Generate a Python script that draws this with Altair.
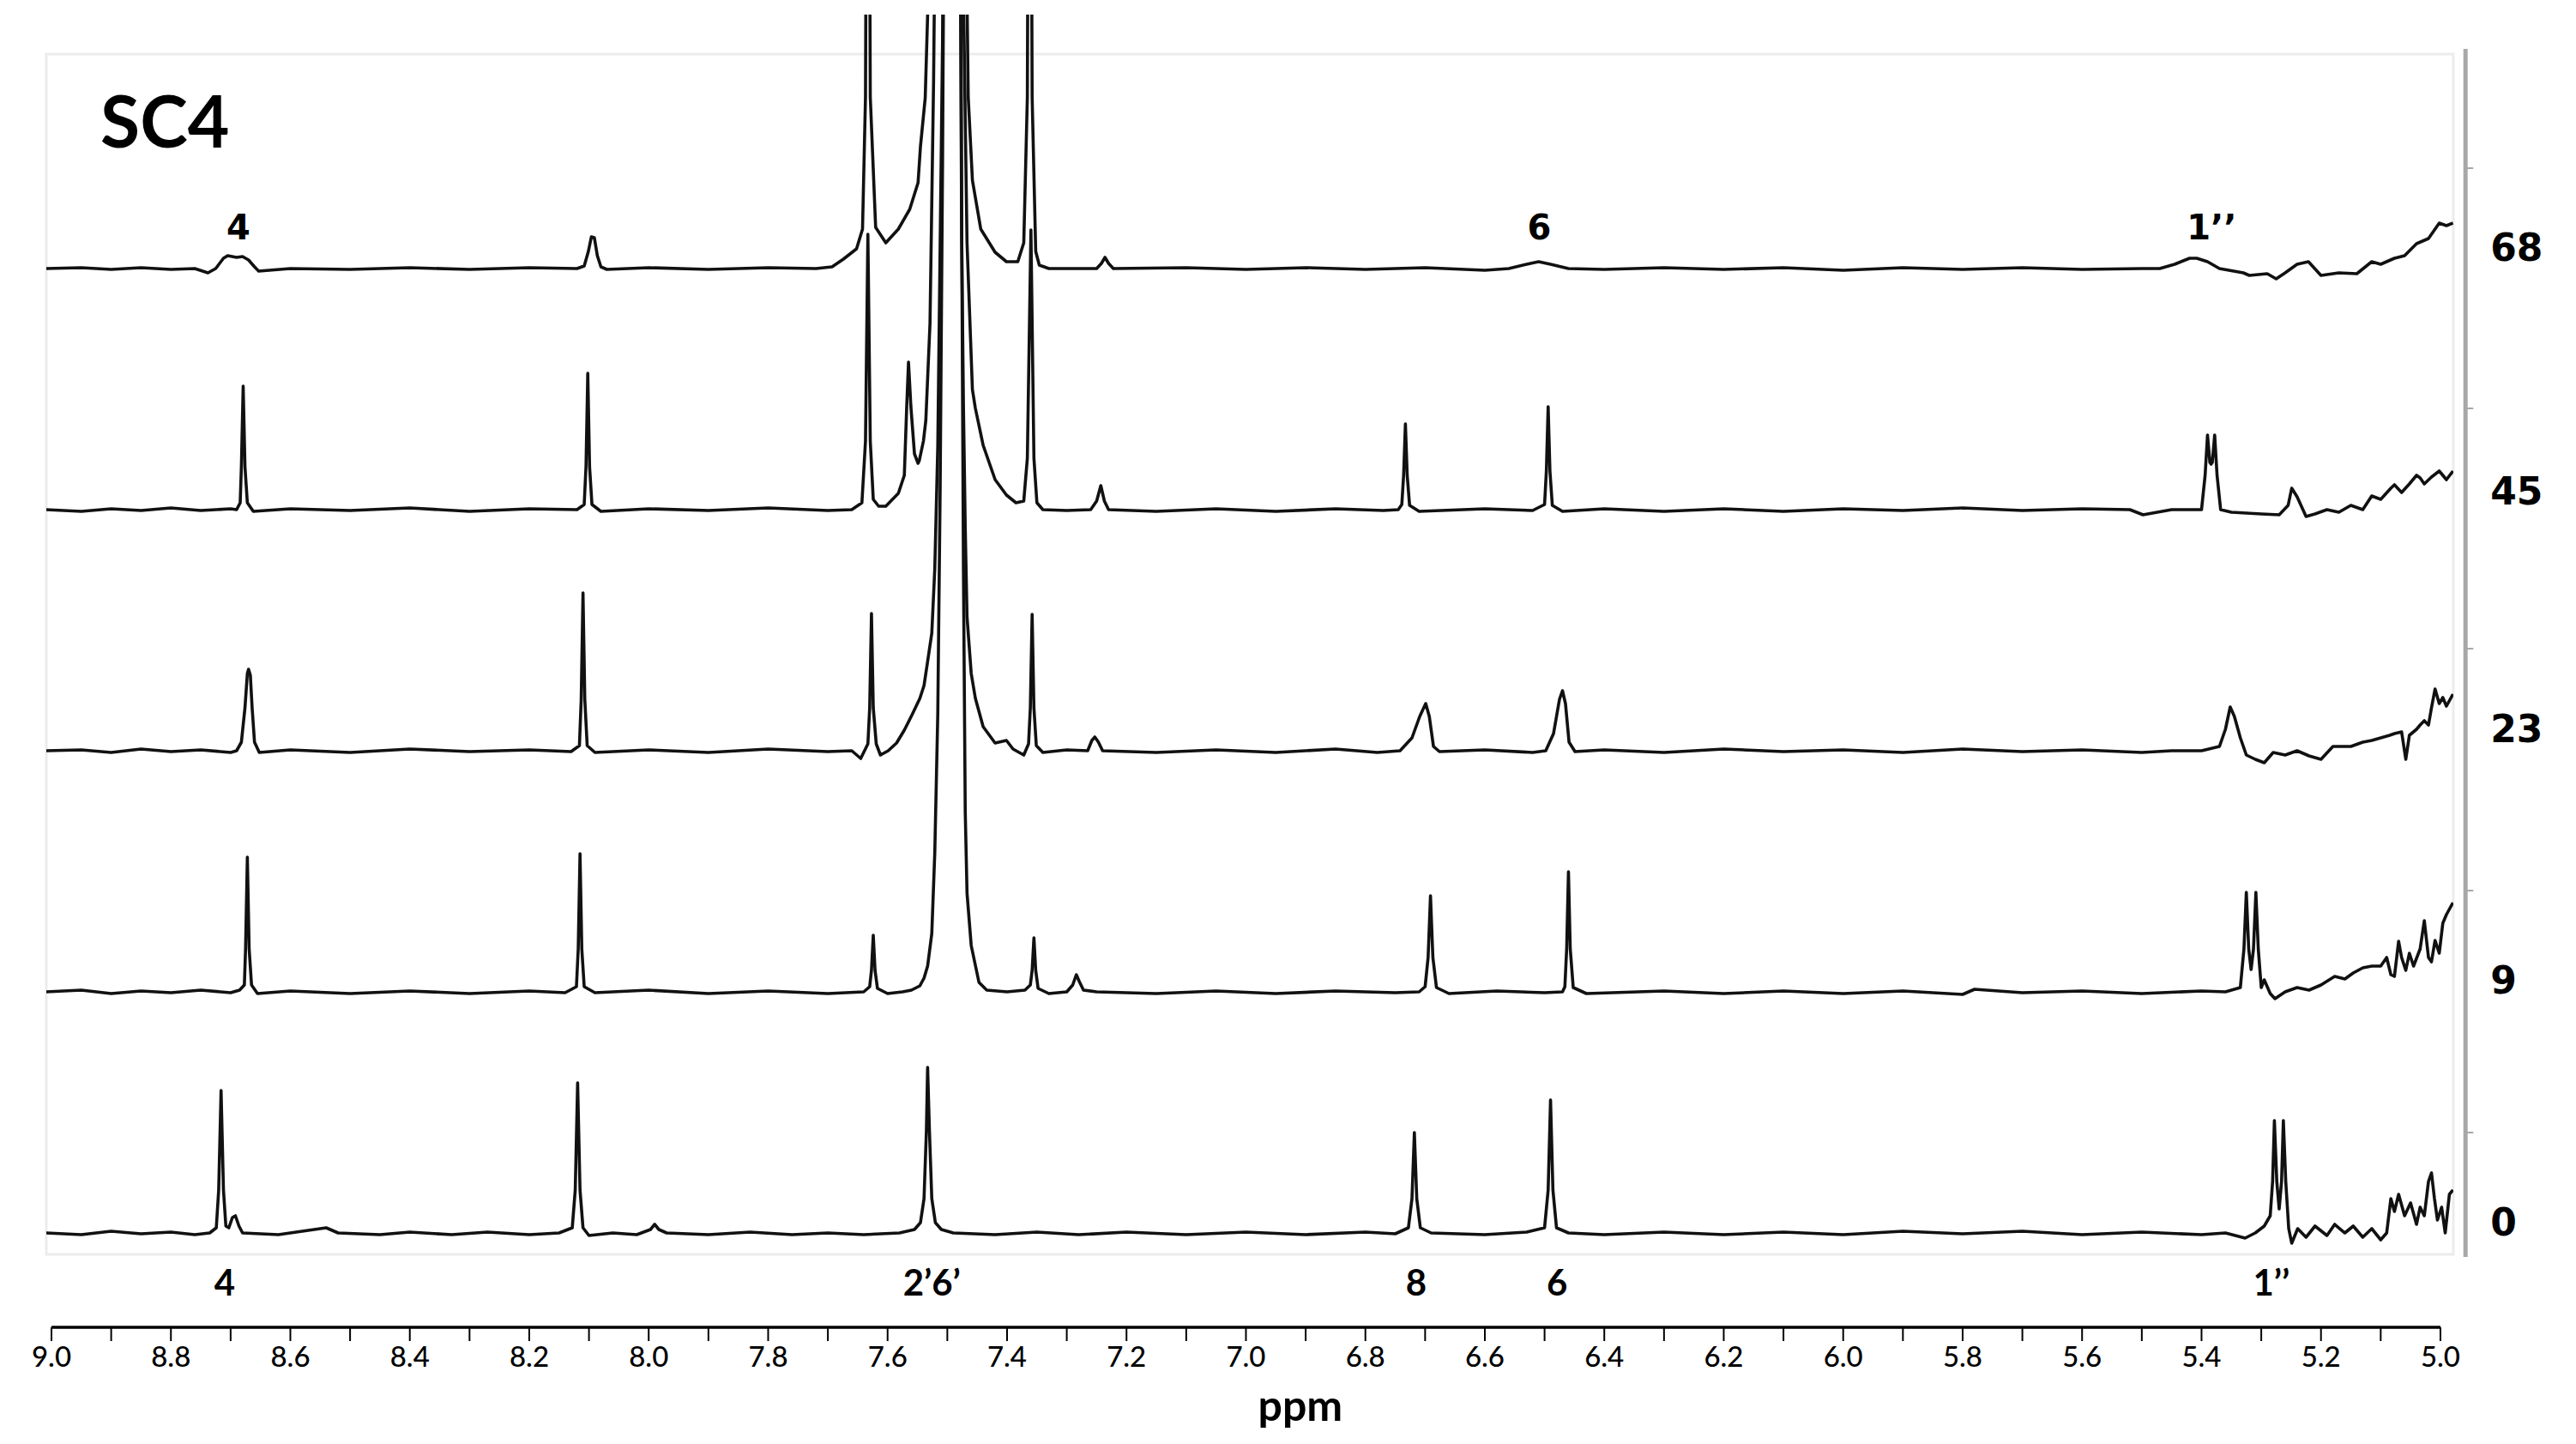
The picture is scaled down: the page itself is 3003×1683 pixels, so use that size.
import altair as alt
import pandas as pd

# ---- stacked 1H NMR traces (ppm, intensity above own baseline) ----
SAMPLES = ["0", "9", "23", "45", "68"]
OFFSETS = [28, 309, 590, 871, 1152]          # stacking offset of each trace
LABEL_Y = [38, 320, 613, 890, 1174]          # right-hand sample labels

trace_0 = [
    (9.010, 0), (8.95, -2), (8.90, 2), (8.85, -1), (8.80, 1), (8.76, -2), (8.735, 0),
    (8.724, 6), (8.720, 50), (8.716, 166), (8.712, 50), (8.708, 8), (8.703, 6), (8.697, 18), (8.692, 20), (8.686, 8), (8.680, 0),
    (8.62, -2), (8.58, 2), (8.54, 6), (8.52, 0), (8.45, -2), (8.40, 1), (8.33, -2), (8.27, 1), (8.20, -2), (8.15, 0),
    (8.128, 6), (8.123, 50), (8.119, 175), (8.115, 50), (8.110, 6), (8.10, -3), (8.06, 0), (8.02, -2), (7.997, 4), (7.99, 10), (7.983, 4), (7.97, 0),
    (7.90, -2), (7.83, 1), (7.76, -2), (7.70, 0), (7.64, -2), (7.58, 0), (7.555, 4),
    (7.545, 12), (7.539, 40), (7.535, 120), (7.533, 193), (7.530, 120), (7.526, 40), (7.520, 12), (7.510, 4), (7.49, 0),
    (7.42, -2), (7.35, 1), (7.28, -2), (7.20, 1), (7.10, -2), (7.00, 1), (6.90, -2), (6.80, 1), (6.75, -1),
    (6.728, 6), (6.722, 40), (6.718, 117), (6.714, 40), (6.708, 6), (6.69, 0), (6.60, -2), (6.53, 1),
    (6.500, 6), (6.494, 50), (6.490, 155), (6.486, 50), (6.480, 6), (6.46, 0),
    (6.40, -2), (6.30, 1), (6.20, -2), (6.10, 1), (6.00, -2), (5.90, 2), (5.80, -1), (5.70, 2), (5.60, -2), (5.50, 1),
    (5.40, -2), (5.36, 0), (5.327, -6), (5.31, 0), (5.295, 8),
    (5.285, 20), (5.281, 60), (5.278, 131), (5.274, 60), (5.270, 28), (5.266, 60), (5.263, 131), (5.259, 60), (5.254, 5),
    (5.249, -12), (5.239, 5), (5.225, -5), (5.21, 8), (5.19, -3), (5.177, 10), (5.16, 0), (5.146, 8), (5.13, -5), (5.115, 5),
    (5.10, -8), (5.09, 0), (5.083, 40), (5.077, 25), (5.070, 45), (5.060, 20), (5.050, 35), (5.040, 10), (5.034, 30),
    (5.027, 20), (5.020, 60), (5.015, 70), (5.010, 40), (5.005, 15), (4.998, 30), (4.992, 0), (4.985, 45), (4.979, 50),
]

trace_9 = [
    (9.010, 0), (8.95, 2), (8.90, -2), (8.85, 1), (8.80, -1), (8.75, 2), (8.70, -1), (8.685, 2),
    (8.677, 8), (8.675, 50), (8.672, 157), (8.669, 50), (8.665, 8), (8.655, -2), (8.60, 1), (8.50, -2), (8.40, 1), (8.30, -2), (8.20, 1), (8.14, -1),
    (8.121, 6), (8.118, 50), (8.115, 161), (8.112, 50), (8.108, 6), (8.09, -1), (8.00, 2), (7.90, -2), (7.80, 1), (7.70, -2), (7.64, 0),
    (7.630, 6), (7.627, 25), (7.624, 66), (7.621, 25), (7.617, 4), (7.60, -2), (7.575, 0), (7.56, 2),
    (7.546, 7), (7.539, 16), (7.533, 30), (7.526, 68), (7.521, 162), (7.516, 323), (7.512, 587), (7.508, 965), (7.503, 1600),
    (7.495, 2600), (7.488, 2800), (7.481, 2000), (7.476, 900), (7.473, 493), (7.470, 210), (7.467, 115), (7.460, 54), (7.447, 11),
    (7.434, 2), (7.40, 0), (7.37, 2),
    (7.361, 8), (7.358, 25), (7.355, 63), (7.352, 25), (7.348, 4), (7.33, -2), (7.30, 0), (7.290, 8), (7.284, 20), (7.279, 12), (7.272, 2), (7.25, 0),
    (7.15, -2), (7.05, 1), (6.95, -2), (6.85, 1), (6.75, -1), (6.71, 0),
    (6.700, 6), (6.695, 40), (6.691, 112), (6.687, 40), (6.681, 5), (6.66, -2), (6.58, 1), (6.50, -1), (6.47, 0),
    (6.466, 6), (6.463, 50), (6.460, 140), (6.457, 50), (6.452, 5), (6.43, -2), (6.30, 1), (6.20, -2), (6.10, 1), (6.00, -2),
    (5.90, 1), (5.80, -3), (5.78, 3), (5.70, -1), (5.60, 1), (5.50, -2), (5.40, 1), (5.36, 0), (5.335, 5),
    (5.329, 50), (5.325, 116), (5.321, 50), (5.317, 26), (5.313, 50), (5.309, 116), (5.305, 50), (5.300, 5), (5.295, 14),
    (5.285, -2), (5.277, -8), (5.26, 0), (5.24, 5), (5.22, 2), (5.20, 8), (5.177, 18), (5.16, 15), (5.146, 22), (5.13, 28),
    (5.115, 30), (5.10, 30), (5.09, 40), (5.083, 20), (5.077, 18), (5.070, 59), (5.065, 40), (5.058, 25), (5.052, 45),
    (5.045, 30), (5.034, 50), (5.027, 83), (5.020, 40), (5.015, 35), (5.009, 60), (5.002, 45), (4.996, 80), (4.990, 90), (4.979, 104),
]

trace_23 = [
    (9.010, 0), (8.95, 1), (8.90, -2), (8.85, 2), (8.80, -1), (8.75, 1), (8.70, -2),
    (8.690, 0), (8.682, 10), (8.676, 50), (8.672, 90), (8.670, 95), (8.667, 88), (8.664, 50), (8.660, 10), (8.652, -2),
    (8.60, 1), (8.50, -2), (8.40, 2), (8.30, -1), (8.20, 1), (8.13, -1),
    (8.116, 6), (8.113, 60), (8.110, 184), (8.107, 60), (8.103, 6), (8.09, -2), (8.00, 1), (7.90, -2), (7.80, 2), (7.70, -1), (7.66, 0), (7.645, -9),
    (7.633, 8), (7.630, 50), (7.627, 160), (7.624, 50), (7.619, 8), (7.612, -5), (7.599, 0), (7.585, 9), (7.572, 24), (7.559, 42),
    (7.546, 61), (7.539, 76), (7.533, 104), (7.526, 137), (7.521, 212), (7.516, 354), (7.512, 590), (7.508, 826), (7.503, 1400),
    (7.496, 2200), (7.487, 2000), (7.480, 1200), (7.476, 600), (7.473, 401), (7.470, 260), (7.467, 156), (7.460, 90), (7.453, 61),
    (7.440, 28), (7.420, 9), (7.401, 12), (7.39, 2), (7.372, -5),
    (7.364, 8), (7.361, 50), (7.358, 159), (7.355, 50), (7.351, 6), (7.34, -2), (7.30, 1), (7.265, 0), (7.258, 12), (7.253, 16), (7.247, 10), (7.24, 0),
    (7.15, -2), (7.05, 1), (6.95, -2), (6.85, 2), (6.78, -2), (6.742, 0), (6.722, 15), (6.709, 40), (6.699, 55), (6.693, 40), (6.686, 5),
    (6.676, -1), (6.60, 1), (6.52, -2), (6.498, 0), (6.485, 20), (6.475, 60), (6.470, 70), (6.465, 55), (6.459, 10), (6.449, -1),
    (6.40, 1), (6.30, -2), (6.20, 2), (6.10, -1), (6.00, 1), (5.90, -2), (5.80, 2), (5.70, -1), (5.60, 1), (5.50, -2), (5.45, 0), (5.40, 0),
    (5.37, 5), (5.360, 25), (5.352, 51), (5.345, 40), (5.335, 15), (5.325, -5), (5.31, -10), (5.295, -14), (5.28, -2), (5.26, -5),
    (5.24, 0), (5.22, -6), (5.20, -10), (5.18, 5), (5.15, 5), (5.13, 10), (5.115, 12), (5.10, 15), (5.085, 18), (5.077, 20),
    (5.065, 22), (5.058, -10), (5.052, 18), (5.040, 25), (5.034, 30), (5.027, 35), (5.020, 30), (5.015, 50), (5.009, 72),
    (5.002, 55), (4.996, 62), (4.990, 52), (4.979, 66),
]

trace_45 = [
    (9.010, 0), (8.95, -2), (8.90, 1), (8.85, -1), (8.80, 2), (8.75, -1), (8.70, 1), (8.69, 0),
    (8.684, 8), (8.682, 50), (8.679, 144), (8.676, 50), (8.672, 8), (8.662, -2), (8.60, 1), (8.50, -1), (8.40, 2), (8.30, -2), (8.20, 1), (8.12, 0),
    (8.108, 6), (8.105, 50), (8.102, 159), (8.099, 50), (8.095, 6), (8.08, -2), (8.00, 1), (7.90, -1), (7.80, 2), (7.70, -1), (7.66, 0),
    (7.643, 8), (7.637, 80), (7.633, 321), (7.629, 80), (7.624, 12), (7.615, 4), (7.603, 4), (7.582, 19), (7.572, 40),
    (7.568, 120), (7.565, 172), (7.561, 120), (7.555, 65), (7.549, 54), (7.547, 57), (7.540, 80), (7.536, 104), (7.529, 217),
    (7.523, 500), (7.516, 1000), (7.505, 2000), (7.490, 2600), (7.478, 1500), (7.473, 600), (7.467, 311), (7.458, 140),
    (7.453, 118), (7.440, 75), (7.420, 35), (7.401, 17), (7.385, 8), (7.372, 10),
    (7.366, 60), (7.360, 326), (7.355, 60), (7.350, 8), (7.34, 0), (7.30, -1), (7.26, 0), (7.250, 10), (7.243, 28), (7.237, 10), (7.23, 0),
    (7.15, -2), (7.05, 1), (6.95, -2), (6.85, 1), (6.77, -1), (6.745, 0),
    (6.739, 6), (6.736, 40), (6.733, 100), (6.730, 40), (6.726, 5), (6.71, -2), (6.60, 1), (6.52, -1),
    (6.500, 6), (6.497, 45), (6.494, 120), (6.491, 45), (6.487, 5), (6.47, -2), (6.40, 1), (6.30, -2), (6.20, 1), (6.10, -2),
    (6.00, 1), (5.90, -1), (5.80, 2), (5.70, -1), (5.60, 1), (5.52, 0), (5.498, -6), (5.45, 0), (5.40, 0),
    (5.394, 40), (5.390, 87), (5.386, 55), (5.384, 53), (5.382, 55), (5.378, 87), (5.374, 40), (5.368, 0), (5.35, -3),
    (5.30, -5), (5.27, -6), (5.255, 5), (5.249, 25), (5.24, 15), (5.225, -8), (5.21, -5), (5.19, 0), (5.17, -3), (5.15, 5),
    (5.13, 0), (5.115, 16), (5.10, 12), (5.083, 25), (5.077, 29), (5.065, 20), (5.052, 30), (5.040, 40), (5.034, 37),
    (5.027, 30), (5.015, 38), (5.002, 45), (4.990, 35), (4.979, 45),
]

trace_68 = [
    (9.010, 0), (8.95, 1), (8.90, -1), (8.85, 1), (8.80, -1), (8.76, 0), (8.738, -5), (8.725, 0), (8.712, 12), (8.705, 15),
    (8.690, 13), (8.680, 14), (8.670, 10), (8.660, 2), (8.653, -3), (8.60, 0), (8.50, -1), (8.40, 1), (8.30, -1), (8.20, 1), (8.12, 0),
    (8.108, 3), (8.101, 20), (8.096, 37), (8.091, 36), (8.086, 15), (8.080, 2), (8.07, -1), (8.00, 1), (7.90, -1), (7.80, 1),
    (7.72, 0), (7.693, 2), (7.674, 11), (7.652, 23), (7.642, 46),
    (7.637, 200), (7.633, 1000), (7.629, 200), (7.620, 48), (7.603, 30), (7.582, 46), (7.563, 69), (7.549, 100), (7.545, 142),
    (7.537, 199), (7.533, 295), (7.526, 700), (7.515, 1800), (7.495, 2600), (7.480, 2000), (7.472, 600), (7.465, 200),
    (7.458, 103), (7.444, 46), (7.420, 19), (7.401, 8), (7.382, 8), (7.372, 30),
    (7.366, 200), (7.362, 1000), (7.358, 200), (7.352, 20), (7.346, 4), (7.33, 0), (7.25, 0), (7.242, 6), (7.236, 13), (7.230, 6), (7.222, 0),
    (7.10, 1), (7.00, -1), (6.90, 1), (6.80, -1), (6.70, 1), (6.60, -2), (6.56, 0), (6.53, 5), (6.510, 8), (6.49, 5), (6.46, 0),
    (6.40, -1), (6.30, 1), (6.20, -1), (6.10, 1), (6.00, -2), (5.90, 1), (5.80, -1), (5.70, 1), (5.60, -1), (5.50, 0),
    (5.47, 0), (5.445, 5), (5.420, 12), (5.408, 12), (5.390, 8), (5.370, 0), (5.33, -5), (5.32, -8), (5.29, -6), (5.275, -12),
    (5.26, -5), (5.24, 5), (5.221, 8), (5.20, -8), (5.17, -5), (5.14, -6), (5.115, 8), (5.10, 5), (5.077, 12), (5.060, 15),
    (5.040, 29), (5.020, 35), (5.002, 53), (4.990, 50), (4.979, 53),
]

TRACES = [trace_0, trace_9, trace_23, trace_45, trace_68]

# x-axis: ticks every 0.1 ppm, labels every 0.2 ppm
TICKS = [9.0, 8.9, 8.8, 8.7, 8.6, 8.5, 8.4, 8.3, 8.2, 8.1, 8.0, 7.9, 7.8, 7.7, 7.6, 7.5, 7.4, 7.3, 7.2, 7.1,
         7.0, 6.9, 6.8, 6.7, 6.6, 6.5, 6.4, 6.3, 6.2, 6.1, 6.0, 5.9, 5.8, 5.7, 5.6, 5.5, 5.4, 5.3, 5.2, 5.1, 5.0]
TICK_LABELS = ["9.0", "8.8", "8.6", "8.4", "8.2", "8.0", "7.8", "7.6", "7.4", "7.2", "7.0",
               "6.8", "6.6", "6.4", "6.2", "6.0", "5.8", "5.6", "5.4", "5.2", "5.0"]

# peak assignment labels
TOP_LABELS = ["4", "6", "1’’"]
TOP_PPM = [8.687, 6.509, 5.383]
BOTTOM_LABELS = ["4", "2’6’", "8", "6", "1’’"]
BOTTOM_PPM = [8.710, 7.526, 6.715, 6.479, 5.283]

# ---------------- build tables ----------------
rows = []
for name, off, tr in zip(SAMPLES, OFFSETS, TRACES):
    for i, (p, h) in enumerate(tr):
        rows.append({"sample": name, "ppm": p, "y": off + h, "i": i})
df = pd.DataFrame(rows)

XSC = alt.Scale(domain=[9.0086, 4.9784], nice=False, zero=False)
YSC = alt.Scale(domain=[0, 1448], nice=False, zero=False)

AXIS_Y = -82        # x-axis line position (below the lowest trace)
TICK_LEN = 16
LABEL_Y_POS = -118
PPM_Y = -176


def X(f):
    return alt.X(f, scale=XSC, axis=None)


def Y(f):
    return alt.Y(f, scale=YSC, axis=None)


lines = alt.Chart(df).mark_line(clip=True, color="#111111", strokeWidth=3.6, strokeJoin="round").encode(
    x=X("ppm:Q"), y=Y("y:Q"), detail="sample:N", order="i:Q")

frame = alt.Chart(pd.DataFrame({"a": [9.0086], "b": [4.9784], "c": [3], "d": [1402]})).mark_rect(
    fillOpacity=0, stroke="#ececec", strokeWidth=3).encode(
    x=X("a:Q"), x2="b:Q", y=Y("c:Q"), y2="d:Q")

axis_line = alt.Chart(pd.DataFrame({"a": [9.0], "b": [5.0], "c": [AXIS_Y]})).mark_rule(
    color="black", strokeWidth=3.5).encode(
    x=X("a:Q"), x2="b:Q", y=Y("c:Q"))

tick_df = pd.DataFrame({"a": TICKS, "c": [AXIS_Y] * len(TICKS), "d": [AXIS_Y - TICK_LEN] * len(TICKS)})
ticks = alt.Chart(tick_df).mark_rule(color="black", strokeWidth=2).encode(
    x=X("a:Q"), y=Y("c:Q"), y2="d:Q")

lab_df = pd.DataFrame({"t": TICK_LABELS, "a": [float(s) for s in TICK_LABELS],
                       "c": [LABEL_Y_POS] * len(TICK_LABELS)})
tick_labels = alt.Chart(lab_df).mark_text(
    align="center", baseline="middle", font="Lato", fontSize=33, fontWeight=500, color="black").encode(
    x=X("a:Q"), y=Y("c:Q"), text="t:N")

bar = alt.Chart(pd.DataFrame({"a": [4.958], "c": [0], "d": [1408]})).mark_rule(
    color="#a8a8a8", strokeWidth=5).encode(
    x=X("a:Q"), y=Y("c:Q"), y2="d:Q")

bar_ticks = alt.Chart(pd.DataFrame({"a": [4.958] * 5, "b": [4.945] * 5,
                                    "c": [145, 427, 709, 989, 1269]})).mark_rule(
    color="#a8a8a8", strokeWidth=2).encode(
    x=X("a:Q"), x2="b:Q", y=Y("c:Q"))

right_labels = alt.Chart(pd.DataFrame({"t": SAMPLES, "a": [4.9164] * 5, "c": LABEL_Y})).mark_text(
    align="left", baseline="middle", font="DejaVu Sans", fontWeight="bold", fontSize=44, color="black").encode(
    x=X("a:Q"), y=Y("c:Q"), text="t:N")

top_labels = alt.Chart(pd.DataFrame({"t": TOP_LABELS, "a": TOP_PPM, "c": [1198] * 3})).mark_text(
    align="center", baseline="middle", font="DejaVu Sans", fontWeight="bold", fontSize=40, color="black").encode(
    x=X("a:Q"), y=Y("c:Q"), text="t:N")

bottom_labels = alt.Chart(pd.DataFrame({"t": BOTTOM_LABELS, "a": BOTTOM_PPM, "c": [-32] * 5})).mark_text(
    align="center", baseline="middle", font="Lato", fontWeight="bold", fontSize=42, color="black").encode(
    x=X("a:Q"), y=Y("c:Q"), text="t:N")

title = alt.Chart(pd.DataFrame({"t": ["SC4"], "a": [8.918], "c": [1293]})).mark_text(
    align="left", baseline="alphabetic", font="Lato", fontWeight="bold", fontSize=84, color="black").encode(
    x=X("a:Q"), y=Y("c:Q"), text="t:N")

xtitle = alt.Chart(pd.DataFrame({"t": ["ppm"], "a": [6.909], "c": [PPM_Y]})).mark_text(
    align="center", baseline="middle", font="Lato", fontWeight="bold", fontSize=50, color="black").encode(
    x=X("a:Q"), y=Y("c:Q"), text="t:N")

chart = alt.layer(frame, lines, axis_line, ticks, tick_labels, bar, bar_ticks, right_labels,
                  top_labels, bottom_labels, title, xtitle).properties(
    width=2806, height=1448,
    autosize=alt.AutoSizeParams(type="none"),
    padding={"left": 46, "top": 9, "right": 130, "bottom": 205},
    background="white",
).configure_view(strokeWidth=0)

chart.save("out.html", embed_options={"renderer": "svg", "actions": False})
